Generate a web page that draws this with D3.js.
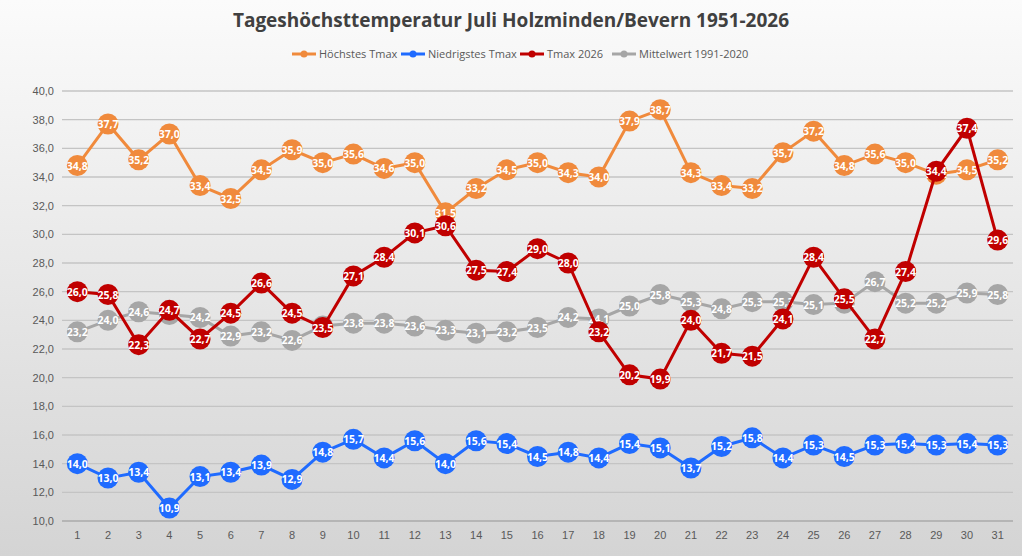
<!DOCTYPE html>
<html><head><meta charset="utf-8">
<script src="https://cdn.jsdelivr.net/npm/d3@7"></script>
<style>body{margin:0}svg{display:block;font-family:"Open Sans",Calibri,sans-serif}</style>
</head><body><svg id="chart"></svg>
<script>
// data
const days = d3.range(1, 32);
const hoechst = [34.8,37.7,35.2,37.0,33.4,32.5,34.5,35.9,35.0,35.6,34.6,35.0,31.5,33.2,34.5,35.0,34.3,34.0,37.9,38.7,34.3,33.4,33.2,35.7,37.2,34.8,35.6,35.0,34.2,34.5,35.2];
const niedrig = [14.0,13.0,13.4,10.9,13.1,13.4,13.9,12.9,14.8,15.7,14.4,15.6,14.0,15.6,15.4,14.5,14.8,14.4,15.4,15.1,13.7,15.2,15.8,14.4,15.3,14.5,15.3,15.4,15.3,15.4,15.3];
const tmax2026 = [26.0,25.8,22.3,24.7,22.7,24.5,26.6,24.5,23.5,27.1,28.4,30.1,30.6,27.5,27.4,29.0,28.0,23.2,20.2,19.9,24.0,21.7,21.5,24.1,28.4,25.5,22.7,27.4,34.4,37.4,29.6];
const mittel = [23.2,24.0,24.6,24.4,24.2,22.9,23.2,22.6,23.6,23.8,23.8,23.6,23.3,23.1,23.2,23.5,24.2,24.1,25.0,25.8,25.3,24.8,25.3,25.3,25.1,25.2,26.7,25.2,25.2,25.9,25.8];
const yTicks = d3.range(10, 40.1, 2);

const series = [
  {name: "Mittelwert 1991-2020", values: mittel, color: "#a6a6a6"},
  {name: "Niedrigstes Tmax", values: niedrig, color: "#1f6bff"},
  {name: "Höchstes Tmax", values: hoechst, color: "#f08a3c"},
  {name: "Tmax 2026", values: tmax2026, color: "#c00000"}
];
const legendOrder = [2, 1, 3, 0];

const w = 1022, h = 556;
const svg = d3.select("#chart").attr("width", w).attr("height", h);

const grad = svg.append("defs").append("linearGradient").attr("id", "bg")
  .attr("x1", 0).attr("y1", 0).attr("x2", 0).attr("y2", 1);
grad.append("stop").attr("offset", "0%").attr("stop-color", "#fbfbfb");
grad.append("stop").attr("offset", "100%").attr("stop-color", "#d4d4d4");
svg.append("rect").attr("width", w).attr("height", h).attr("fill", "url(#bg)");

const x = d3.scaleBand().domain(days).range([62, 1013]);
const y = d3.scaleLinear().domain([10, 40]).range([521, 91]);
const cx = d => x(d) + x.bandwidth() / 2;

// grid
svg.append("g").selectAll("line").data(yTicks).join("line")
  .attr("x1", 62).attr("x2", 1013).attr("y1", d => y(d)).attr("y2", d => y(d))
  .attr("stroke", d => d === 10 ? "#aaa" : "#c4c4c4").attr("stroke-width", 1.3);

// axes
const axisY = d3.axisLeft(y).tickValues(yTicks).tickSize(0).tickPadding(8)
  .tickFormat(d => d3.format(".1f")(d).replace(".", ","));
svg.append("g").attr("transform", "translate(62,0)").call(axisY)
  .call(g => g.select(".domain").remove())
  .selectAll("text").attr("font-size", 11).attr("fill", "#595959");
const axisX = d3.axisBottom(x).tickSize(0).tickPadding(10);
svg.append("g").attr("transform", "translate(0,521)").call(axisX)
  .call(g => g.select(".domain").remove())
  .selectAll("text").attr("font-size", 11).attr("fill", "#595959");

const line = d3.line().x((d, i) => cx(days[i])).y(d => y(d));
series.forEach(s => {
  const g = svg.append("g");
  g.append("path").attr("d", line(s.values)).attr("fill", "none")
    .attr("stroke", s.color).attr("stroke-width", 3);
  g.selectAll("circle").data(s.values).join("circle")
    .attr("cx", (d, i) => cx(days[i])).attr("cy", d => y(d)).attr("r", 10.5)
    .attr("fill", s.color);
  g.selectAll("text").data(s.values).join("text")
    .attr("x", (d, i) => cx(days[i])).attr("y", d => y(d) + 4)
    .attr("text-anchor", "middle").attr("font-size", 10.5).attr("font-weight", "bold")
    .attr("fill", "#fff").text(d => d3.format(".1f")(d).replace(".", ","));
});

// title
svg.append("text").attr("x", w / 2).attr("y", 27).attr("text-anchor", "middle")
  .attr("font-size", 19).attr("font-weight", "bold").attr("fill", "#404040")
  .text("Tageshöchsttemperatur Juli Holzminden/Bevern 1951-2026");

// legend
const legX = [292, 401, 520, 612];
legendOrder.forEach((k, i) => {
  const s = series[k];
  const g = svg.append("g").attr("transform", `translate(${legX[i]},54)`);
  g.append("line").attr("x1", 0).attr("x2", 24).attr("stroke", s.color).attr("stroke-width", 3);
  g.append("circle").attr("cx", 12).attr("r", 3.5).attr("fill", s.color);
  g.append("text").attr("x", 27).attr("y", 4).attr("font-size", 11).attr("fill", "#595959").text(s.name);
});
</script></body></html>
